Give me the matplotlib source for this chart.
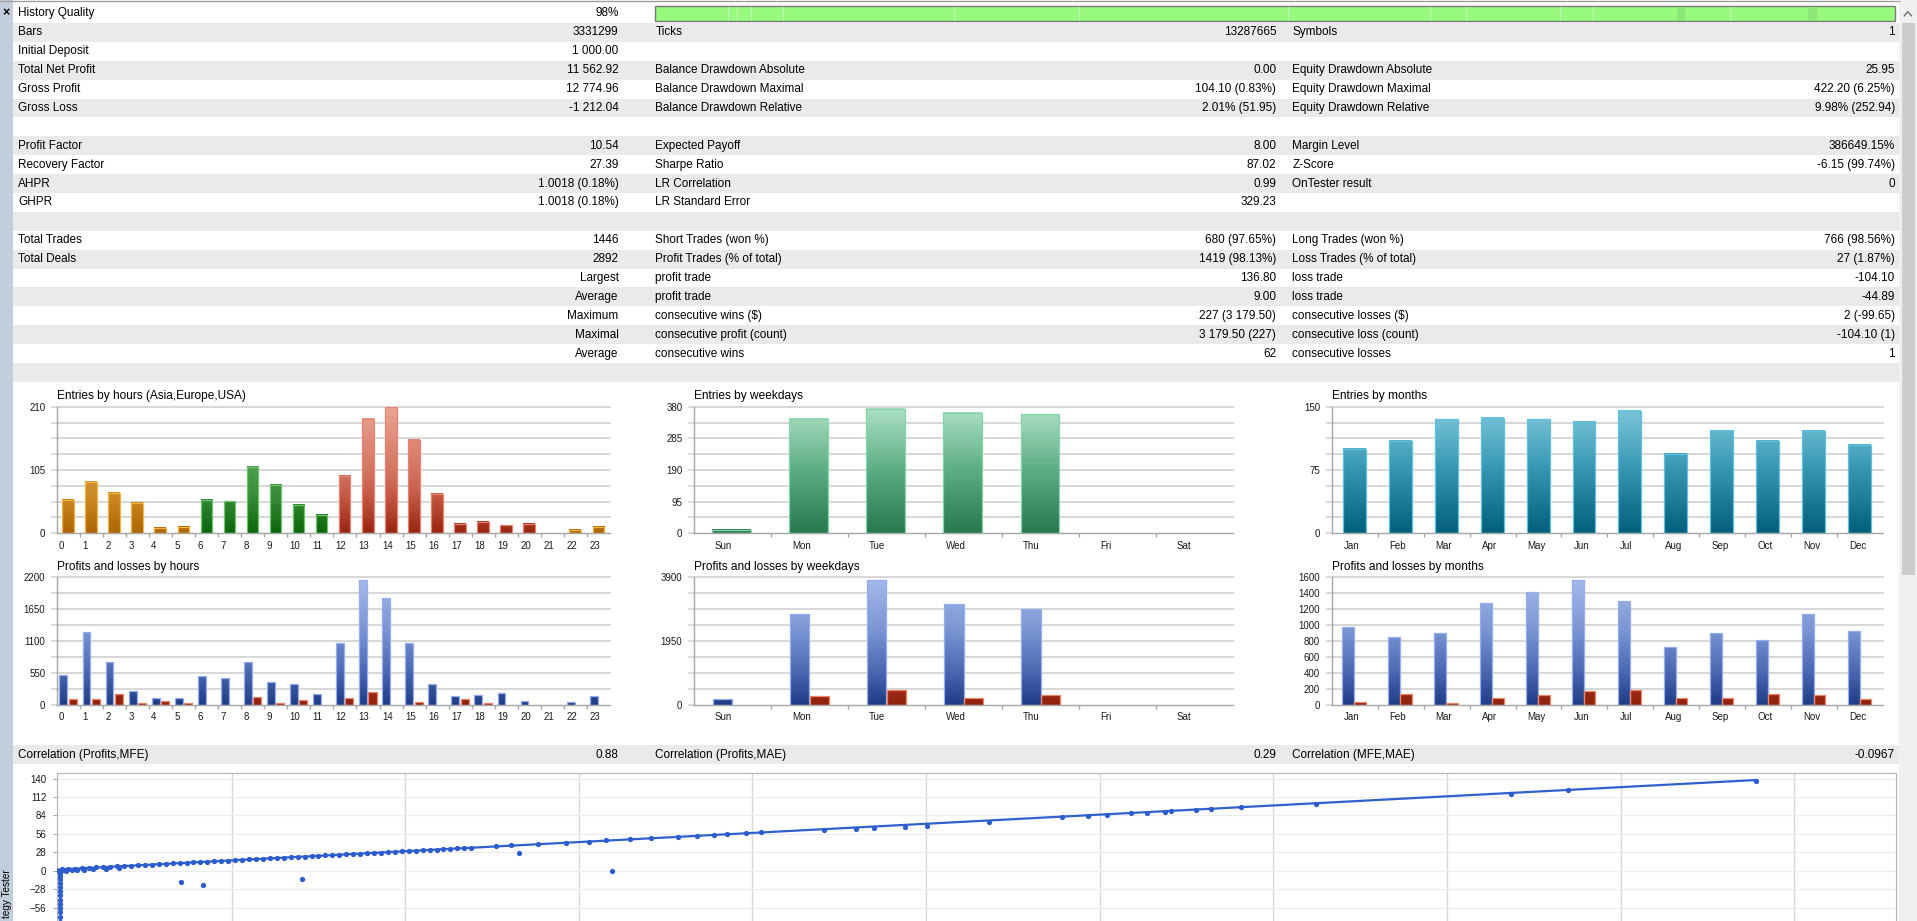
import matplotlib
matplotlib.use("Agg")
import matplotlib.pyplot as plt
import numpy as np
from matplotlib.patches import Rectangle
from matplotlib.colors import LinearSegmentedColormap

plt.rcParams['font.family'] = ['Liberation Sans', 'DejaVu Sans']

# layout is measured on a 1568x753 grid and scaled to the 1917x921 output
W, H = 1568.0, 753.0

# ---------------- DATA
col1_labels = ["History Quality", "Bars", "Initial Deposit", "Total Net Profit", "Gross Profit", "Gross Loss", "",
               "Profit Factor", "Recovery Factor", "AHPR", "GHPR", "",
               "Total Trades", "Total Deals", "", "", "", "", "", ""]
col1_values = ["98%", "3331299", "1 000.00", "11 562.92", "12 774.96", "-1 212.04", "",
               "10.54", "27.39", "1.0018 (0.18%)", "1.0018 (0.18%)", "",
               "1446", "2892", "Largest", "Average", "Maximum", "Maximal", "Average", ""]
col2_labels = ["", "Ticks", "", "Balance Drawdown Absolute", "Balance Drawdown Maximal", "Balance Drawdown Relative", "",
               "Expected Payoff", "Sharpe Ratio", "LR Correlation", "LR Standard Error", "",
               "Short Trades (won %)", "Profit Trades (% of total)", "profit trade", "profit trade",
               "consecutive wins ($)", "consecutive profit (count)", "consecutive wins", ""]
col2_values = ["", "13287665", "", "0.00", "104.10 (0.83%)", "2.01% (51.95)", "",
               "8.00", "87.02", "0.99", "329.23", "",
               "680 (97.65%)", "1419 (98.13%)", "136.80", "9.00", "227 (3 179.50)", "3 179.50 (227)", "62", ""]
col3_labels = ["", "Symbols", "", "Equity Drawdown Absolute", "Equity Drawdown Maximal", "Equity Drawdown Relative", "",
               "Margin Level", "Z-Score", "OnTester result", "", "",
               "Long Trades (won %)", "Loss Trades (% of total)", "loss trade", "loss trade",
               "consecutive losses ($)", "consecutive loss (count)", "consecutive losses", ""]
col3_values = ["", "1", "", "25.95", "422.20 (6.25%)", "9.98% (252.94)", "",
               "386649.15%", "-6.15 (99.74%)", "0", "", "",
               "766 (98.56%)", "27 (1.87%)", "-104.10", "-44.89", "2 (-99.65)", "-104.10 (1)", "1", ""]

corr_labels = ["Correlation (Profits,MFE)", "Correlation (Profits,MAE)", "Correlation (MFE,MAE)"]
corr_values = ["0.88", "0.29", "-0.0967"]

# history quality strip: faint spots along the bar (fraction of width)
quality_light = [0.059, 0.066, 0.077, 0.103, 0.241, 0.342, 0.510, 0.625, 0.654, 0.730, 0.756, 0.867]
quality_dark = [0.824, 0.930]

hours = [str(h) for h in range(24)]
hour_session = ['asia'] * 6 + ['europe'] * 6 + ['usa'] * 10 + ['asia'] * 2
hour_entries = [55, 85, 67, 51, 9, 11, 55, 53, 110, 80, 47, 31, 95, 190, 209, 155, 65, 15, 19, 13, 16, 0, 5, 10]
hour_profit = [509, 1262, 735, 237, 104, 104, 486, 452, 735, 388, 353, 174,
               1059, 2158, 1840, 1059, 347, 145, 156, 191, 69, 0, 46, 150]
hour_loss = [100, 88, 175, 32, 60, 32, 0, 0, 130, 32, 82, 0,
             115, 212, 0, 38, 0, 88, 22, 0, 0, 0, 0, 0]

weekdays = ['Sun', 'Mon', 'Tue', 'Wed', 'Thu', 'Fri', 'Sat']
weekday_entries = [11, 343, 373, 362, 357, 0, 0]
weekday_profit = [170, 2790, 3820, 3079, 2915, 0, 0]
weekday_loss = [0, 270, 455, 195, 292, 0, 0]

months = ['Jan', 'Feb', 'Mar', 'Apr', 'May', 'Jun', 'Jul', 'Aug', 'Sep', 'Oct', 'Nov', 'Dec']
month_entries = [100, 110, 135, 137, 135, 132, 145, 94, 122, 110, 121, 105]
month_profit = [977, 846, 897, 1272, 1415, 1569, 1308, 728, 897, 817, 1133, 926]
month_loss = [29, 131, 17, 80, 115, 175, 188, 88, 80, 135, 115, 67]

# Profit vs MFE scatter
mfe_cluster = [0.3, 0.9, 1.5, 2.1, 2.7, 3.3, 3.9, 4.5, 5.1, 5.7, 6.3, 6.9, 7.5, 8.1, 8.7, 9.3, 9.9, 10.5,
               11.1, 11.7, 12.3, 12.9, 13.5, 14.1, 14.7, 15.3, 15.9, 16.5, 17.1, 17.7, 18.3, 18.9, 19.5,
               20.1, 20.7, 21.3, 21.9, 22.5, 23.1, 23.7, 24.3, 24.9, 25.5, 26.1, 26.7, 27.3, 27.9, 28.5,
               29.1, 29.7, 30.3, 30.9, 31.5, 32.1, 32.7, 33.3, 33.9, 34.5, 35.1, 35.7]
profit_cluster = [2.3, 2.8, 3.4, 4.0, 4.5, 5.1, 5.6, 6.2, 6.7, 7.3, 7.8, 8.4, 9.0, 9.5, 10.1, 10.6, 11.2, 11.7,
                  12.3, 12.8, 13.4, 14.0, 14.5, 15.1, 15.6, 16.2, 16.7, 17.3, 17.8, 18.4, 19.0, 19.5, 20.1,
                  20.6, 21.2, 21.7, 22.3, 22.8, 23.4, 23.9, 24.5, 25.0, 25.6, 26.1, 26.7, 27.3, 27.8, 28.4,
                  28.9, 29.5, 30.0, 30.6, 31.1, 31.7, 32.3, 32.8, 33.4, 33.9, 34.5, 35.0]
mfe_near = [0.1, 0.4, 0.7, 1.2, 1.6, 2.2, 3.0, 4.1, 5.3]
profit_near = [0.4, 1.0, 0.2, 1.3, 0.8, 1.9, 2.2, 3.1, 4.0]
mfe_sparse = [37.8, 39.1, 41.5, 43.9, 45.9, 47.3, 49.4, 51.2, 53.6, 55.2, 56.7, 57.8, 59.4, 60.7, 66.2,
              68.9, 70.5, 73.2, 75.1, 80.4, 86.7, 89.0, 90.6, 92.7, 94.1, 95.6, 96.2, 98.3, 99.6, 102.2,
              108.7, 125.5, 130.5, 146.7]
profit_sparse = [37.1, 38.9, 40.8, 42.6, 44.5, 46.4, 48.2, 50.1, 51.9, 53.0, 54.8, 55.6, 57.5, 58.2, 61.2,
                 63.0, 64.9, 66.7, 68.6, 74.2, 81.6, 83.4, 85.3, 87.1, 88.0, 89.0, 90.8, 92.7, 93.5, 96.4,
                 102.0, 116.8, 122.4, 136.8]
mfe_outliers = [10.6, 12.5, 21.1, 39.8, 47.9]
profit_outliers = [-16.7, -22.2, -13.0, 27.8, -0.5]
mfe_losers = [0.15] * 16
profit_losers = [-3.5, -8, -13, -18, -24, -30, -37, -44, -50, -56, -63, -70, -77, -85, -96, -104.1]
lr_intercept, lr_slope = 2.0, 0.925
scatter_yticks = [140, 112, 84, 56, 28, 0, -28, -56]

# ---------------- STYLE
FS = 8.5
TICK_FS = 7
GRAY_ROW = '#eaeaea'
GRID = '#d4d4d4'
AXC = '#a6a6a6'


def ramp(name, stops):
    return LinearSegmentedColormap.from_list(name, stops)


CMAPS = {
    'asia': ramp('asia', [(0, '#ad6600'), (0.25, '#c8851e'), (0.5, '#d69a3c'), (1, '#efc27c')]),
    'europe': ramp('europe', [(0, '#0b650b'), (0.26, '#348934'), (0.52, '#4f9f4f'), (1, '#8ccb8c')]),
    'usa': ramp('usa', [(0, '#9a2610'), (0.3, '#c65a44'), (0.45, '#d0705e'), (1, '#eaa590')]),
    'week': ramp('week', [(0, '#287850'), (0.5, '#5cae84'), (1, '#aee2c6')]),
    'month': ramp('month', [(0, '#035f7d'), (0.5, '#3596b2'), (1, '#80c8dc')]),
    'profit': ramp('profit', [(0, '#1f3c86'), (0.25, '#4967b1'), (0.57, '#7893d1'), (1, '#a6bbea')]),
    'loss': ramp('loss', [(0, '#8e220e'), (0.2, '#a83018'), (1, '#d86848')]),
}
EDGES = {'asia': '#f3b445', 'europe': '#6dc46d', 'usa': '#ea8272', 'week': '#86d4a8',
         'month': '#5cc2de', 'profit': '#93adf0', 'loss': '#f08466'}

fig = plt.figure(figsize=(19.17, 9.21), dpi=100, facecolor='white')
bg = fig.add_axes([0, 0, 1, 1])
bg.set_xlim(0, W)
bg.set_ylim(H, 0)
bg.axis('off')

# window chrome
bg.add_patch(Rectangle((0, 0), 11, H, color='#c2cedb', lw=0))
bg.plot([0, 1553], [1.2, 1.2], color='#a0a0a0', lw=1)
bg.add_patch(Rectangle((1553, 0), W - 1553, H, color='#f0f0f0', lw=0))
bg.add_patch(Rectangle((1556, 19), 10, 451, color='#cdcdcd', lw=0))
bg.plot([1557.5, 1560.5, 1563.5], [13, 9.5, 13], color='#606060', lw=0.9)
bg.text(5, 11, '×', ha='center', va='center', fontsize=9, fontweight='bold')
# the side tab caption is scrolled so only its end shows
bg.text(5.5, 711, 'tegy Tester', rotation=90, ha='center', va='top', fontsize=7.2)

# statistics table
ROW0, ROWH = 3.3, 15.45
X_LAB = [15, 536, 1057]
X_VAL = [506, 1044, 1550]
for i in range(len(col1_labels)):
    top = ROW0 + ROWH * i
    yc = top + ROWH / 2
    if i % 2:
        bg.add_patch(Rectangle((11, top), 1542, ROWH, color=GRAY_ROW, lw=0))
    for x, s in zip(X_LAB, (col1_labels[i], col2_labels[i], col3_labels[i])):
        bg.text(x, yc, s, ha='left', va='center', fontsize=FS)
    for x, s in zip(X_VAL, (col1_values[i], col2_values[i], col3_values[i])):
        bg.text(x, yc, s, ha='right', va='center', fontsize=FS)

# history quality bar
qx0, qx1 = 536, 1550
bg.add_patch(Rectangle((qx0, 5), qx1 - qx0, 12, facecolor='#98fa7c', edgecolor='#7a7a7a', lw=1))
for f in quality_light:
    bg.plot([qx0 + f * (qx1 - qx0)] * 2, [5.8, 16.2], color='#bff3b0', lw=0.8)
for f in quality_dark:
    bg.add_patch(Rectangle((qx0 + f * (qx1 - qx0), 5.8), 7, 10.4, color='#8ee878', lw=0))

# correlation row
ctop = 609.3
bg.add_patch(Rectangle((11, ctop), 1542, ROWH, color=GRAY_ROW, lw=0))
for x, s in zip(X_LAB, corr_labels):
    bg.text(x, ctop + ROWH / 2, s, ha='left', va='center', fontsize=FS)
for x, s in zip(X_VAL, corr_values):
    bg.text(x, ctop + ROWH / 2, s, ha='right', va='center', fontsize=FS)


def px_axes(x0, y0, x1, y1):
    return fig.add_axes([x0 / W, 1 - y1 / H, (x1 - x0) / W, (y1 - y0) / H])


def bar_chart(box, title, cats, ymax, labeled, lab_off, series):
    x0, y0, x1, y1 = box
    ax = px_axes(x0, y0, x1, y1)
    ax.set_facecolor('none')
    bg.text(x0, y0 - 8.5, title, ha='left', va='center', fontsize=8.6)
    n = len(cats)
    grid = np.linspace(0, ymax, 9)
    for g in grid[1:]:
        ax.axhline(g, color=GRID, lw=1.3, zorder=1, clip_on=False)
    for vals, lo, hi, kinds in series:
        idx = [i for i, v in enumerate(vals) if v > 0]
        hs = [vals[i] for i in idx]
        bars = ax.bar([i + lo for i in idx], hs, hi - lo, align='edge', facecolor='none',
                      edgecolor=[EDGES[kinds[i]] for i in idx], linewidth=0.9, zorder=3)
        for b, h, i in zip(bars, hs, idx):
            grad = np.linspace(0, h / ymax, 64).reshape(-1, 1)
            ax.imshow(grad, extent=(b.get_x(), b.get_x() + b.get_width(), 0, h), origin='lower',
                      aspect='auto', cmap=CMAPS[kinds[i]], vmin=0, vmax=1,
                      interpolation='bilinear', zorder=2)
    ax.set_xlim(0, n)
    ax.set_ylim(0, ymax)
    ax.set_yticks(grid)
    ax.set_yticklabels([f"{g:g}" if int(round(g)) in labeled and abs(g - round(g)) < 1e-6 else ""
                        for g in grid])
    ax.tick_params(axis='y', length=4, color=GRID, width=1.2, pad=4.3, labelsize=TICK_FS,
                   labelcolor='#1a1a1a')
    ax.set_xticks(np.arange(1, n))
    ax.set_xticklabels([])
    ax.set_xticks(np.arange(n) + lab_off, cats, minor=True)
    ax.tick_params(axis='x', which='major', length=3, color=AXC, width=1)
    ax.tick_params(axis='x', which='minor', length=0, pad=5.5, labelsize=TICK_FS, labelcolor='#1a1a1a')
    for t in ax.get_xticklabels(minor=True):
        t.set_ha('left')
    for s in ('top', 'right'):
        ax.spines[s].set_visible(False)
    for s in ('left', 'bottom'):
        ax.spines[s].set_color(AXC)
        ax.spines[s].set_linewidth(1)
    return ax


H_BOX = (46.4, 499.0)
D_BOX = (567.6, 1008.6)
M_BOX = (1089.2, 1540.4)
TOP1, BOT1 = 332.6, 436.0
TOP2, BOT2 = 472.0, 576.0

bar_chart((H_BOX[0], TOP1, H_BOX[1], BOT1), "Entries by hours (Asia,Europe,USA)", hours, 210,
          {0, 105, 210}, 0.1, [(hour_entries, 0.24, 0.74, hour_session)])
bar_chart((D_BOX[0], TOP1, D_BOX[1], BOT1), "Entries by weekdays", weekdays, 380,
          {0, 95, 190, 285, 380}, 0.27, [(weekday_entries, 0.24, 0.74, ['week'] * 7)])
bar_chart((M_BOX[0], TOP1, M_BOX[1], BOT1), "Entries by months", months, 150,
          {0, 75, 150}, 0.26, [(month_entries, 0.24, 0.74, ['month'] * 12)])

bar_chart((H_BOX[0], TOP2, H_BOX[1], BOT2), "Profits and losses by hours", hours, 2200,
          {0, 550, 1100, 1650, 2200}, 0.1,
          [(hour_profit, 0.12, 0.46, ['profit'] * 24), (hour_loss, 0.52, 0.87, ['loss'] * 24)])
bar_chart((D_BOX[0], TOP2, D_BOX[1], BOT2), "Profits and losses by weekdays", weekdays, 3900,
          {0, 1950, 3900}, 0.27,
          [(weekday_profit, 0.245, 0.5, ['profit'] * 7), (weekday_loss, 0.505, 0.755, ['loss'] * 7)])
bar_chart((M_BOX[0], TOP2, M_BOX[1], BOT2), "Profits and losses by months", months, 1600,
          {0, 200, 400, 600, 800, 1000, 1200, 1400, 1600}, 0.26,
          [(month_profit, 0.235, 0.485, ['profit'] * 12), (month_loss, 0.49, 0.74, ['loss'] * 12)])

# ---------------- Profit vs MFE scatter (partly scrolled out of view)
sx0, sx1, sy0, sy1 = 46.5, 1551, 632, 800
zero_px, px_per_28 = 712, 15.1
xpx0, px_per_15 = 47.5, 142
ax = px_axes(sx0, sy0, sx1, sy1)
ax.set_facecolor('white')
ax.set_ylim(-(sy1 - zero_px) / px_per_28 * 28, (zero_px - sy0) / px_per_28 * 28)
ax.set_xlim(-(xpx0 - sx0) / px_per_15 * 15, (sx1 - xpx0) / px_per_15 * 15)
ax.set_xticks(np.arange(15, 160, 15))
ax.set_xticklabels([])
ax.set_yticks(scatter_yticks)
ax.tick_params(axis='x', length=0)
ax.tick_params(axis='y', length=3, color=AXC, pad=4.5, labelsize=TICK_FS, labelcolor='#1a1a1a')
ax.grid(True, axis='x', color='#d8d8d8', lw=1)
ax.grid(True, axis='y', color='#ececec', lw=0.8)
ax.set_axisbelow(True)
for s in ax.spines.values():
    s.set_color('#b4b4b4')

all_mfe = mfe_losers + mfe_near + mfe_cluster + mfe_outliers + mfe_sparse
all_profit = profit_losers + profit_near + profit_cluster + profit_outliers + profit_sparse
xl = np.array([0, max(all_mfe)])
ax.plot(xl, lr_intercept + lr_slope * xl, color='#3060d0', lw=1.6, zorder=3)
ax.plot(all_mfe, all_profit, 'o', color='#2d5ccc', ms=3.8, mew=0, zorder=4)
bg.text(52, 643, "Profit", ha='left', va='center', fontsize=6.5)

fig.savefig('out.png', dpi=100, facecolor='white')
